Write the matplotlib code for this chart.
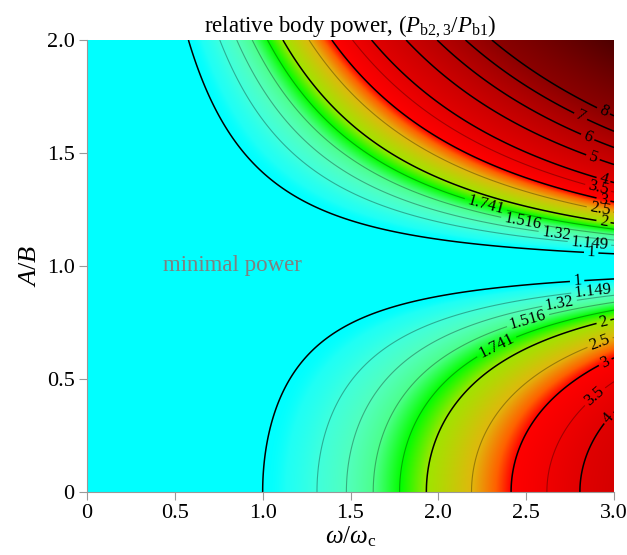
import numpy as np
import matplotlib
matplotlib.use("Agg")
import matplotlib.pyplot as plt
from matplotlib.colors import LinearSegmentedColormap

# axis ranges (omega/omega_c, A/B)
freq_range = [0.0, 3.0]
ratio_range = [0.0, 2.0]

# contour levels of P_b2,3 / P_b1 and how they are labelled
levels = [1.0, 2 ** 0.2, 2 ** 0.4, 2 ** 0.6, 2 ** 0.8, 2.0, 2.5, 3.0, 3.5, 4.0, 5.0, 6.0, 7.0, 8.0]
level_text = ["1", "1.149", "1.32", "1.516", "1.741", "2", "2.5", "3", "3.5", "4", "5", "6", "7", "8"]
major_levels = [1.0, 2.0, 3.0, 4.0, 5.0, 6.0, 7.0, 8.0]

# where along omega/omega_c each label sits (upper branch A/B > 1, lower branch A/B < 1)
upper_label_x = [2.87, 2.86, 2.67, 2.48, 2.27, 2.94, 2.92, 2.94, 2.91, 2.94, 2.88, 2.85, 2.81, 2.94]
lower_label_x = [2.79, 2.88, 2.69, 2.51, 2.33, 2.94, 2.92, 2.95, 2.89, 2.97, None, None, None, None]

xticks = [0, 0.5, 1.0, 1.5, 2.0, 2.5, 3.0]
xtick_labels = ["0", "0.5", "1.0", "1.5", "2.0", "2.5", "3.0"]
yticks = [0, 0.5, 1.0, 1.5, 2.0]
ytick_labels = ["0", "0.5", "1.0", "1.5", "2.0"]

# colour stops: (power ratio, colour)
colour_stops = [
    (1.0, (0.0, 1.0, 1.0)),
    (1.03, (0.12, 1.0, 0.96)),
    (1.149, (0.25, 1.0, 0.86)),
    (1.32, (0.32, 1.0, 0.74)),
    (1.516, (0.3, 1.0, 0.55)),
    (1.68, (0.1, 1.0, 0.15)),
    (1.75, (0.0, 1.0, 0.0)),
    (2.0, (0.62, 0.9, 0.0)),
    (2.5, (0.88, 0.72, 0.05)),
    (2.8, (1.0, 0.38, 0.0)),
    (3.0, (1.0, 0.0, 0.0)),
    (4.0, (0.88, 0.0, 0.0)),
    (6.0, (0.72, 0.0, 0.0)),
    (8.0, (0.55, 0.0, 0.0)),
    (13.6, (0.3, 0.0, 0.0)),
]

plt.rcParams["font.family"] = "serif"
plt.rcParams["font.serif"] = ["Liberation Serif", "DejaVu Serif"]
plt.rcParams["mathtext.fontset"] = "custom"
plt.rcParams["mathtext.rm"] = "Liberation Serif"
plt.rcParams["mathtext.it"] = "Liberation Serif:italic"


def u_of(w, ab):
    return w ** 2 * np.abs(1.0 - ab ** 2)


def u_at_level(p):
    # inverse of p = (u + 1/u) / 2 on the branch u >= 1
    return p + np.sqrt(p * p - 1.0)


w = np.linspace(freq_range[0], freq_range[1], 900)
ab = np.linspace(ratio_range[0], ratio_range[1], 700)
W, AB = np.meshgrid(w, ab)
U = u_of(W, AB)
power = np.where(U > 1.0, 0.5 * (U + 1.0 / np.maximum(U, 1e-9)), 1.0)

lo, hi = colour_stops[0][0], colour_stops[-1][0]
cmap = LinearSegmentedColormap.from_list(
    "bodypower", [((v - lo) / (hi - lo), c) for v, c in colour_stops], N=4096)

fig = plt.figure(figsize=(6.27, 5.55), dpi=100)
ax = fig.add_axes([87 / 627, 63 / 555, 527 / 627, 452 / 555])

ax.imshow(power, extent=freq_range + ratio_range, origin="lower", aspect="auto",
          cmap=cmap, vmin=lo, vmax=hi, interpolation="bilinear")

u_levels = [u_at_level(p) for p in levels]
colours = ["black" if p in major_levels else (0, 0, 0, 0.32) for p in levels]
widths = [1.1 if p in major_levels else 0.8 for p in levels]
cs = ax.contour(W, AB, U, levels=u_levels, colors=colours, linewidths=widths)

fmt = {u: t for u, t in zip(u_levels, level_text)}
spots = []
for uL, xu, xl in zip(u_levels, upper_label_x, lower_label_x):
    spots.append((xu, np.sqrt(1.0 + uL / xu ** 2)))
    if xl is not None:
        spots.append((xl, np.sqrt(1.0 - uL / xl ** 2)))
labels = ax.clabel(cs, fmt=fmt, manual=spots, inline=True, inline_spacing=3, fontsize=12)
for t in labels:
    t.set_color("black")

ax.text(0.83, 1.0, "minimal power", color="#808080", fontsize=16.5, ha="center", va="center")

ax.set_xlim(freq_range)
ax.set_ylim(ratio_range)
ax.set_xticks(xticks)
ax.set_xticklabels(xtick_labels)
ax.set_yticks(yticks)
ax.set_yticklabels(ytick_labels)
ax.tick_params(direction="out", length=6, width=0.8, color="#999999", labelsize=16, pad=3)
for side in ["top", "right"]:
    ax.spines[side].set_visible(False)
for side in ["left", "bottom"]:
    ax.spines[side].set_color("#999999")
    ax.spines[side].set_linewidth(0.8)

ax.set_xlabel(r"$\it{\omega}/\it{\omega}_{\rm c}$", fontsize=18, labelpad=1)
ax.set_ylabel(r"$A/B$", fontsize=19, labelpad=4)
ax.set_title(r"relative body power, ($P_{\rm b2,3}/P_{\rm b1}$)", fontsize=16.5, pad=5)

fig.savefig("out.png", dpi=100)
